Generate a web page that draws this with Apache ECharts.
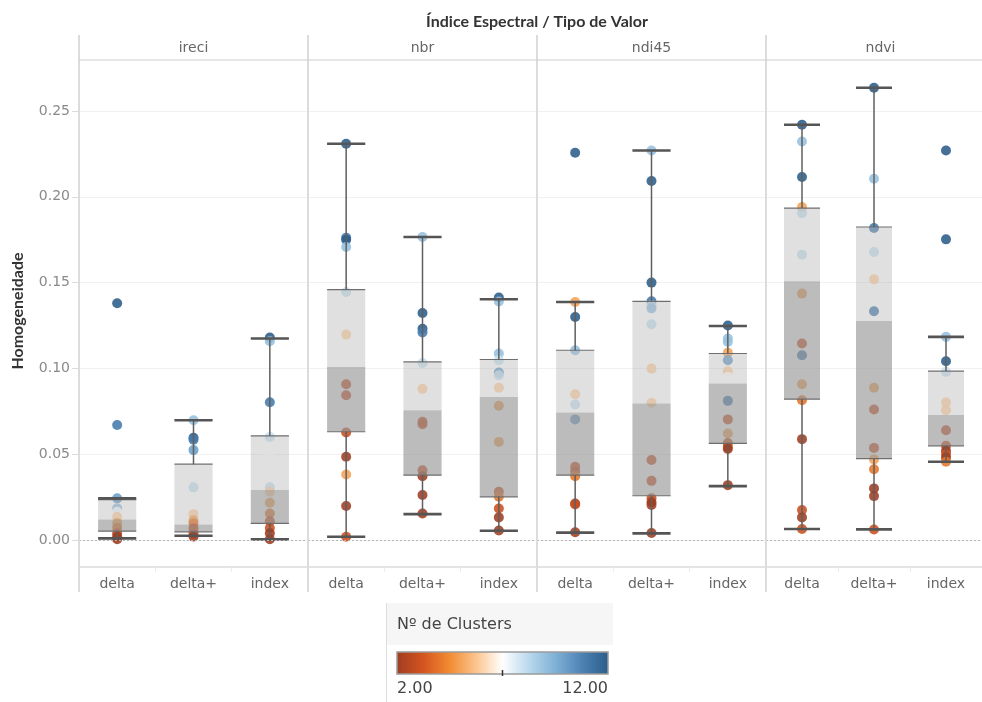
<!DOCTYPE html>
<html>
<head>
<meta charset="utf-8">
<script src="https://cdn.jsdelivr.net/npm/echarts@6/dist/echarts.min.js"></script>
<style>
  html, body { margin: 0; padding: 0; background: #ffffff; }
  #chart { width: 982px; height: 702px; }
</style>
</head>
<body>
<div id="chart"></div>
<script>
// Spectral indices (one panel each) and value types (categories inside each panel)
const indices = ['ireci', 'nbr', 'ndi45', 'ndvi'];
const valueTypes = ['delta', 'delta+', 'index'];
const yTicks = [0, 0.05, 0.10, 0.15, 0.20, 0.25];
const yRange = [-0.0157, 0.2797];
const clusterRange = [2, 12];

// Box statistics per value type: [lower whisker, Q1, median, Q3, upper whisker]
const boxIreci = [
  [0.0010, 0.0052, 0.0120, 0.0235, 0.0243],
  [0.0025, 0.0048, 0.0091, 0.0442, 0.0698],
  [0.0004, 0.0097, 0.0291, 0.0607, 0.1174]
];
const boxNbr = [
  [0.0019, 0.0631, 0.1009, 0.1459, 0.2309],
  [0.0151, 0.0378, 0.0757, 0.1038, 0.1766],
  [0.0054, 0.0252, 0.0834, 0.1052, 0.1403]
];
const boxNdi45 = [
  [0.0043, 0.0378, 0.0743, 0.1106, 0.1387],
  [0.0039, 0.0258, 0.0795, 0.1391, 0.2270],
  [0.0314, 0.0563, 0.0912, 0.1087, 0.1247]
];
const boxNdvi = [
  [0.0064, 0.0821, 0.1508, 0.1934, 0.2420],
  [0.0062, 0.0475, 0.1277, 0.1824, 0.2635],
  [0.0456, 0.0549, 0.0728, 0.0984, 0.1184]
];

// Individual results: [value type index, homogeneidade, nº de clusters]
const ptsIreci = [
  [0, 0.1380, 12], [0, 0.0670, 11], [0, 0.0243, 10], [0, 0.0185, 9], [0, 0.0165, 7],
  [0, 0.0136, 6], [0, 0.0099, 5], [0, 0.0072, 4], [0, 0.0040, 3], [0, 0.0020, 2], [0, 0.0005, 2],
  [1, 0.0698, 9], [1, 0.0596, 12], [1, 0.0585, 11], [1, 0.0524, 10], [1, 0.0307, 8], [1, 0.0220, 7],
  [1, 0.0151, 6], [1, 0.0115, 5], [1, 0.0097, 4], [1, 0.0068, 3], [1, 0.0039, 3], [1, 0.0020, 2],
  [2, 0.1180, 12], [2, 0.1158, 9], [2, 0.0803, 11], [2, 0.0601, 8], [2, 0.0485, 7], [2, 0.0307, 8],
  [2, 0.0282, 6], [2, 0.0217, 5], [2, 0.0155, 4], [2, 0.0110, 3], [2, 0.0070, 3], [2, 0.0040, 2], [2, 0.0005, 2]
];
const ptsNbr = [
  [0, 0.2309, 12], [0, 0.1762, 11], [0, 0.1750, 12], [0, 0.1707, 9], [0, 0.1445, 8], [0, 0.1197, 6],
  [0, 0.0908, 3], [0, 0.0844, 3], [0, 0.0627, 3], [0, 0.0485, 2], [0, 0.0382, 5], [0, 0.0198, 2], [0, 0.0019, 3],
  [1, 0.1766, 9], [1, 0.1323, 12], [1, 0.1231, 12], [1, 0.1210, 11], [1, 0.1032, 8], [1, 0.0881, 6],
  [1, 0.0689, 3], [1, 0.0675, 3], [1, 0.0407, 3], [1, 0.0372, 2], [1, 0.0262, 2], [1, 0.0155, 2],
  [2, 0.1413, 12], [2, 0.1390, 9], [2, 0.1087, 9], [2, 0.1048, 8], [2, 0.0976, 10], [2, 0.0960, 8],
  [2, 0.0887, 6], [2, 0.0782, 5], [2, 0.0572, 5], [2, 0.0281, 3], [2, 0.0252, 4], [2, 0.0184, 3],
  [2, 0.0132, 2], [2, 0.0056, 2]
];
const ptsNdi45 = [
  [0, 0.2257, 12], [0, 0.1387, 5], [0, 0.1300, 12], [0, 0.1106, 9], [0, 0.0850, 6], [0, 0.0790, 8],
  [0, 0.0703, 10], [0, 0.0427, 3], [0, 0.0400, 3], [0, 0.0372, 4], [0, 0.0213, 2], [0, 0.0207, 3], [0, 0.0045, 2],
  [1, 0.2270, 9], [1, 0.2092, 12], [1, 0.1500, 12], [1, 0.1391, 11], [1, 0.1368, 8], [1, 0.1350, 9],
  [1, 0.1257, 8], [1, 0.0999, 6], [1, 0.0800, 6], [1, 0.0466, 3], [1, 0.0345, 3], [1, 0.0243, 3],
  [1, 0.0220, 2], [1, 0.0204, 2], [1, 0.0041, 2],
  [2, 0.1250, 12], [2, 0.1174, 9], [2, 0.1154, 9], [2, 0.1092, 5], [2, 0.1048, 10], [2, 0.0984, 6],
  [2, 0.0951, 7], [2, 0.0811, 11], [2, 0.0703, 3], [2, 0.0621, 5], [2, 0.0565, 3], [2, 0.0543, 3],
  [2, 0.0530, 2], [2, 0.0320, 2]
];
const ptsNdvi = [
  [0, 0.2420, 12], [0, 0.2322, 9], [0, 0.2115, 12], [0, 0.1940, 5], [0, 0.1905, 8], [0, 0.1663, 8],
  [0, 0.1436, 5], [0, 0.1145, 3], [0, 0.1077, 11], [0, 0.0908, 5], [0, 0.0815, 4], [0, 0.0588, 2],
  [0, 0.0175, 3], [0, 0.0132, 2], [0, 0.0064, 3],
  [1, 0.2635, 12], [1, 0.2105, 9], [1, 0.1818, 11], [1, 0.1678, 8], [1, 0.1519, 6], [1, 0.1333, 11],
  [1, 0.0887, 5], [1, 0.0761, 3], [1, 0.0537, 3], [1, 0.0470, 5], [1, 0.0413, 4], [1, 0.0301, 2],
  [1, 0.0256, 2], [1, 0.0062, 3],
  [2, 0.2270, 12], [2, 0.1752, 12], [2, 0.1184, 9], [2, 0.1042, 12], [2, 0.0980, 8], [2, 0.0887, 7],
  [2, 0.0801, 6], [2, 0.0757, 6], [2, 0.0640, 3], [2, 0.0549, 3], [2, 0.0520, 2], [2, 0.0500, 3],
  [2, 0.0480, 2], [2, 0.0456, 4]
];

const boxes = [boxIreci, boxNbr, boxNdi45, boxNdvi];
const points = [ptsIreci, ptsNbr, ptsNdi45, ptsNdvi];

// Orange-blue diverging ramp for the cluster count
const ramp = ['#9e3d22', '#d4541f', '#f18b31', '#fcc48d', '#ffffff', '#b9d8ec', '#7fb0d6', '#4d82b4', '#2b5c8a'];

// Layout
const PANEL_LEFT = 79, PANEL_W = 229, PLOT_TOP = 60, PLOT_H = 507;
const FRAME_TOP = 35, FRAME_BOTTOM = 592;
const FONT = '"DejaVu Sans", sans-serif';

const chart = echarts.init(document.getElementById('chart'), null, { renderer: 'canvas' });

function renderBox(params, api) {
  const x = api.value(0);
  const lo = api.coord([x, api.value(1)]);
  const q1 = api.coord([x, api.value(2)]);
  const md = api.coord([x, api.value(3)]);
  const q3 = api.coord([x, api.value(4)]);
  const hi = api.coord([x, api.value(5)]);
  const w = api.size([1, 0])[0] * 0.5;
  const cx = lo[0];
  const l = cx - w / 2;
  const line = (x1, y1, x2, y2, stroke, lw) => ({
    type: 'line', shape: { x1, y1, x2, y2 }, style: { stroke, lineWidth: lw }
  });
  return {
    type: 'group',
    children: [
      { type: 'rect', shape: { x: l, y: q3[1], width: w, height: md[1] - q3[1] },
        style: { fill: 'rgba(178,178,178,0.40)' } },
      { type: 'rect', shape: { x: l, y: md[1], width: w, height: q1[1] - md[1] },
        style: { fill: 'rgba(150,150,150,0.64)' } },
      line(l, q3[1], l + w, q3[1], '#6e6e6e', 1.2),
      line(l, q1[1], l + w, q1[1], '#6e6e6e', 1.2),
      line(cx, hi[1], cx, q3[1], '#5f5f5f', 1.5),
      line(cx, q1[1], cx, lo[1], '#5f5f5f', 1.5),
      line(l, hi[1], l + w, hi[1], '#555555', 2.6),
      line(l, lo[1], l + w, lo[1], '#555555', 2.6)
    ]
  };
}

const grids = [], xAxes = [], yAxes = [], series = [], scatterIdx = [];
indices.forEach((name, i) => {
  grids.push({ left: PANEL_LEFT + i * PANEL_W, top: PLOT_TOP, width: PANEL_W, height: PLOT_H });
  xAxes.push({
    type: 'category', gridIndex: i, data: valueTypes, position: 'bottom',
    axisLine: { show: true, onZero: false, lineStyle: { color: '#dadada', width: 1.5 } },
    axisTick: { show: true, length: 5, lineStyle: { color: '#ececec' } },
    axisLabel: { color: '#666666', fontSize: 14, fontFamily: FONT, margin: 10 },
    splitLine: { show: false }
  });
  yAxes.push({
    type: 'value', gridIndex: i, min: yRange[0], max: yRange[1],
    axisLine: { show: false },
    axisTick: { show: i === 0, length: 7, customValues: yTicks, lineStyle: { color: '#dddddd' } },
    axisLabel: {
      show: i === 0, color: '#8a8a8a', fontSize: 14, fontFamily: FONT, margin: 9,
      customValues: yTicks,
      formatter: v => v.toFixed(2)
    },
    splitLine: { show: true, lineStyle: { color: '#f1f1f1', width: 1 } }
  });
  scatterIdx.push(series.length);
  series.push({
    type: 'scatter', xAxisIndex: i, yAxisIndex: i, data: points[i],
    symbolSize: 10, z: 2,
    itemStyle: { opacity: 0.88 },
    markLine: {
      silent: true, symbol: 'none', label: { show: false },
      lineStyle: { color: '#b5b5b5', type: [2, 2], width: 1 },
      data: [{ yAxis: 0 }]
    }
  });
  series.push({
    type: 'custom', xAxisIndex: i, yAxisIndex: i, z: 3,
    data: boxes[i].map((b, k) => [k].concat(b)),
    encode: { x: 0, y: [1, 2, 3, 4, 5] },
    renderItem: renderBox
  });
});

// Frame: panel dividers and header rule
const graphics = [];
for (let i = 0; i <= indices.length; i++) {
  const x = PANEL_LEFT + i * PANEL_W;
  graphics.push({ type: 'line', z: 10, shape: { x1: x, y1: FRAME_TOP, x2: x, y2: FRAME_BOTTOM },
    style: { stroke: '#dcdcdc', lineWidth: 2 } });
}
graphics.push({ type: 'line', z: 10,
  shape: { x1: PANEL_LEFT, y1: PLOT_TOP, x2: PANEL_LEFT + indices.length * PANEL_W, y2: PLOT_TOP },
  style: { stroke: '#d0d0d0', lineWidth: 1.2 } });
indices.forEach((name, i) => {
  graphics.push({ type: 'text', z: 10, x: PANEL_LEFT + (i + 0.5) * PANEL_W, y: 48,
    style: { text: name, fill: '#666666', font: '14px ' + FONT, align: 'center', verticalAlign: 'middle' } });
});
graphics.push({ type: 'text', z: 10, x: PANEL_LEFT + 2 * PANEL_W, y: 22,
  style: { text: 'Índice Espectral / Tipo de Valor', fill: '#333333',
    font: 'bold 16px Lato, sans-serif', align: 'center', verticalAlign: 'middle' } });
graphics.push({ type: 'text', z: 10, x: 18, y: 311, rotation: Math.PI / 2,
  style: { text: 'Homogeneidade', fill: '#333333',
    font: 'bold 16px Lato, sans-serif', align: 'center', verticalAlign: 'middle' } });

// Colour legend
const LG_X = 397, LG_W = 211, LG_Y = 652, LG_H = 22;
graphics.push({ type: 'rect', z: 10, shape: { x: 386, y: 603, width: 227, height: 42 },
  style: { fill: '#f6f6f6' } });
graphics.push({ type: 'line', z: 10, shape: { x1: 386.5, y1: 603, x2: 386.5, y2: 702 },
  style: { stroke: '#dddddd', lineWidth: 1 } });
graphics.push({ type: 'text', z: 11, x: LG_X, y: 625,
  style: { text: 'Nº de Clusters', fill: '#444444', font: '16px ' + FONT, align: 'left', verticalAlign: 'middle' } });
graphics.push({ type: 'rect', z: 11, shape: { x: LG_X, y: LG_Y, width: LG_W, height: LG_H },
  style: {
    fill: new echarts.graphic.LinearGradient(0, 0, 1, 0,
      ramp.map((c, k) => ({ offset: k / (ramp.length - 1), color: c }))),
    stroke: '#9a9a9a', lineWidth: 1.5
  } });
const midX = LG_X + LG_W / 2;
graphics.push({ type: 'line', z: 12, shape: { x1: midX, y1: LG_Y + LG_H - 4, x2: midX, y2: LG_Y + LG_H + 2 },
  style: { stroke: '#333333', lineWidth: 1.5 } });
graphics.push({ type: 'text', z: 11, x: LG_X, y: 689,
  style: { text: clusterRange[0].toFixed(2), fill: '#444444', font: '16px ' + FONT, align: 'left', verticalAlign: 'middle' } });
graphics.push({ type: 'text', z: 11, x: LG_X + LG_W, y: 689,
  style: { text: clusterRange[1].toFixed(2), fill: '#444444', font: '16px ' + FONT, align: 'right', verticalAlign: 'middle' } });

chart.setOption({
  animation: false,
  backgroundColor: '#ffffff',
  grid: grids,
  xAxis: xAxes,
  yAxis: yAxes,
  visualMap: {
    type: 'continuous', show: false, dimension: 2,
    min: clusterRange[0], max: clusterRange[1],
    seriesIndex: scatterIdx,
    inRange: { color: ramp }
  },
  series: series,
  graphic: graphics
});
</script>
</body>
</html>
